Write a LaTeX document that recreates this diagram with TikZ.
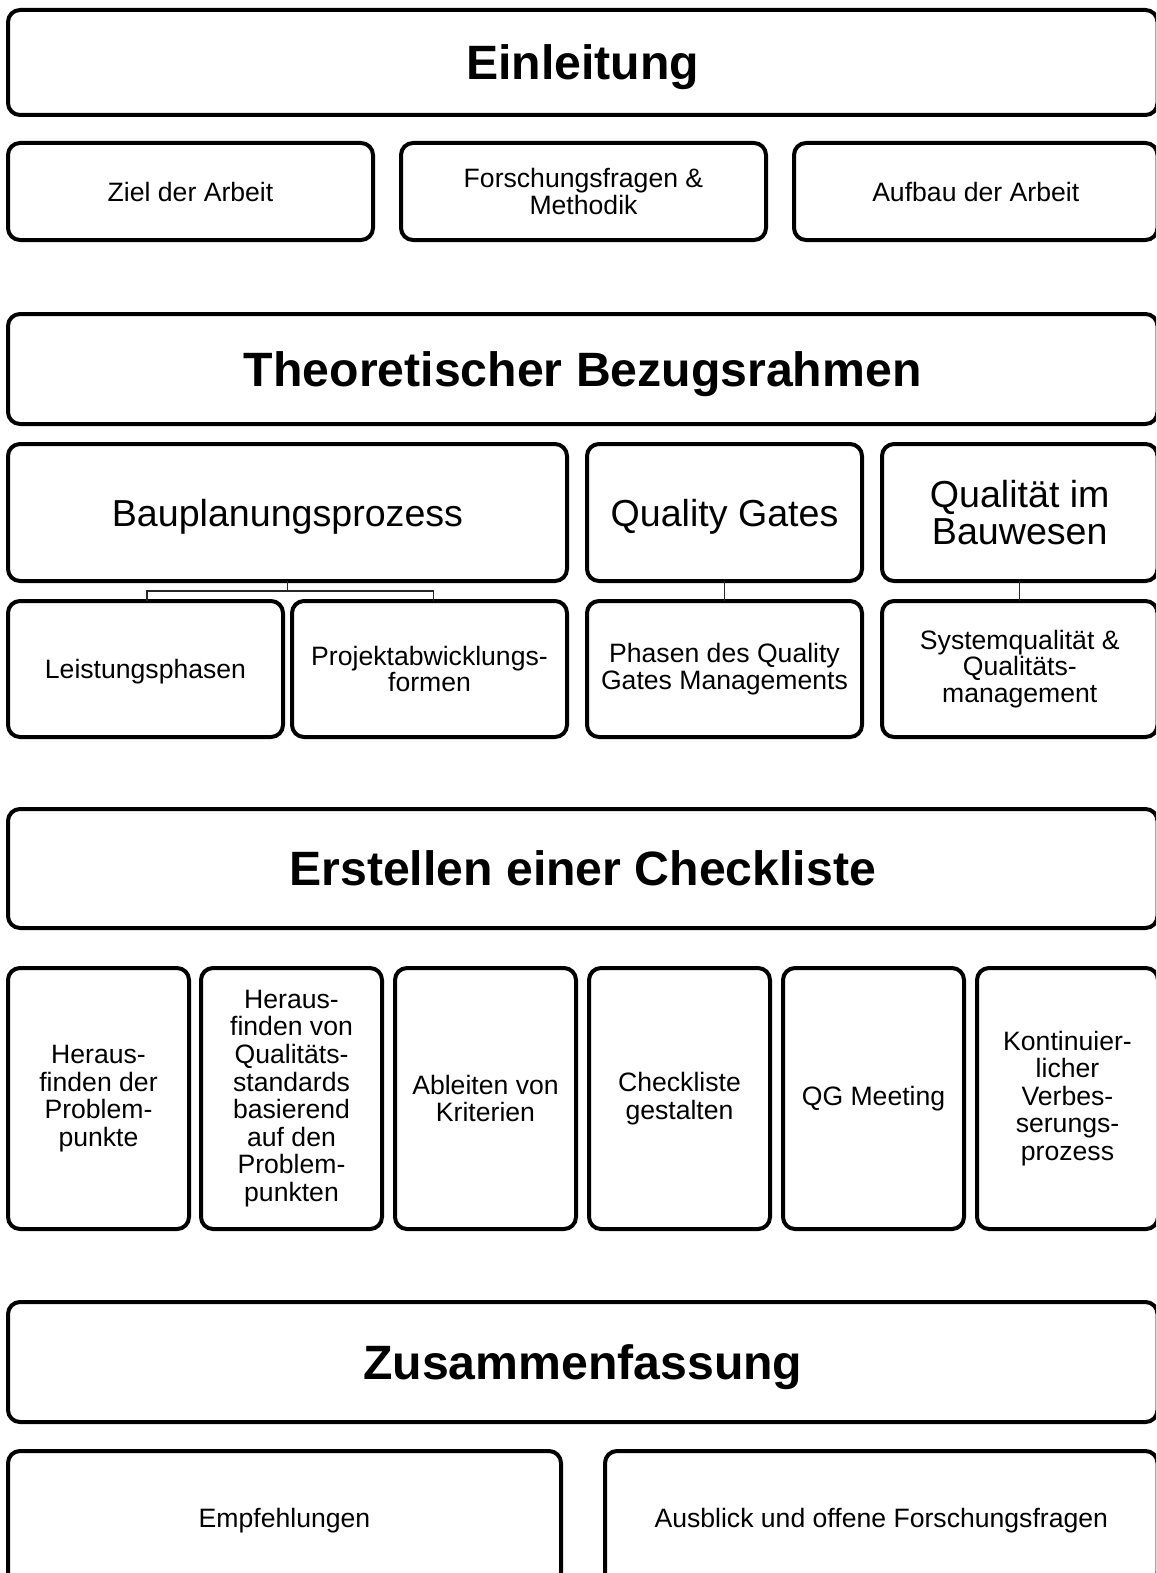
\documentclass[tikz,border=0pt]{standalone}
\usepackage{fontspec}
\setmainfont{Liberation Sans}
\begin{document}
\begin{tikzpicture}[x=1pt,y=-1pt,
  box/.style={draw=black,line width=4pt,rounded corners=12pt,fill=white,
    align=center,inner sep=0pt,outer sep=0pt},
  oneline/.style={text depth=0pt},
  titlebox/.style={box,oneline,font=\fontsize{48.2}{52}\selectfont\bfseries},
  midbox/.style={box,font=\fontsize{37.6}{36.5}\selectfont},
  smallbox/.style={box,font=\fontsize{26.6}{26.5}\selectfont},
  tallbox/.style={box,font=\fontsize{26.6}{27.6}\selectfont},
  link/.style={draw=black!85,line width=1.4pt}]
\clip (0,0) rectangle (1156,1573);
\useasboundingbox (0,0) rectangle (1156,1573);
\fill[white] (0,0) rectangle (1156,1573);
% box placed by its corners: name, x1, y1, x2, y2, style, text
\newcommand\boxfrom[7]{%
  \pgfmathsetmacro\bw{#4-#2}\pgfmathsetmacro\bh{#5-#3}%
  \node[#6,minimum width=\bw pt,minimum height=\bh pt] (#1) at ({(#2+#4)/2},{(#3+#5)/2}) {#7};}
% Einleitung
\boxfrom{einl}{8}{10}{1157.5}{115}{titlebox}{Einleitung}
\boxfrom{ziel}{8}{143}{373}{240}{smallbox}{Ziel der Arbeit}
\boxfrom{forsch}{401}{143}{766}{240}{smallbox}{Forschungsfragen \&\\Methodik}
\boxfrom{aufbau}{794}{143}{1157.5}{240}{smallbox}{Aufbau der Arbeit}
% Theoretischer Bezugsrahmen
\boxfrom{theo}{8}{314}{1157.5}{424}{titlebox}{Theoretischer Bezugsrahmen}
\boxfrom{bau}{8}{444}{567}{581}{midbox,oneline}{Bauplanungsprozess}
\boxfrom{qg}{587}{444}{862}{581}{midbox,oneline}{Quality Gates}
\boxfrom{qb}{882}{444}{1157.5}{581}{midbox}{Qualität im\\Bauwesen}
\boxfrom{lp}{8}{601}{283}{737}{smallbox,oneline}{Leistungsphasen}
\boxfrom{paf}{292}{601}{567}{737}{smallbox}{Projektabwicklungs-\\formen}
\boxfrom{pqg}{587}{601}{862}{737}{smallbox}{Phasen des Quality\\Gates Managements}
\boxfrom{sq}{882}{601}{1157.5}{737}{smallbox}{Systemqualität \&\\Qualitäts-\\management}
% tree connectors
\coordinate (fork) at (bau.south |- 0,591);
\draw[link] (bau.south) -- (fork) -| ([xshift=1.5pt]lp.north);
\draw[link] (fork) -| ([xshift=4pt]paf.north);
\draw[link] (qg.south) -- (pqg.north);
\draw[link] (qb.south) -- (sq.north);
% Erstellen einer Checkliste
\boxfrom{erst}{8}{809}{1157.5}{928}{titlebox}{Erstellen einer Checkliste}
\boxfrom{c1}{8}{968}{189}{1229}{tallbox}{Heraus-\\finden der\\Problem-\\punkte}
\boxfrom{c2}{201}{968}{382}{1229}{tallbox}{Heraus-\\finden von\\Qualitäts-\\standards\\basierend\\auf den\\Problem-\\punkten}
\boxfrom{c3}{395}{968}{576}{1229}{tallbox}{Ableiten von\\Kriterien}
\boxfrom{c4}{589}{968}{770}{1229}{tallbox}{Checkliste\\gestalten}
\boxfrom{c5}{783}{968}{964}{1229}{tallbox}{QG Meeting}
\boxfrom{c6}{977}{968}{1158}{1229}{tallbox}{Kontinuier-\\licher\\Verbes-\\serungs-\\prozess}
% Zusammenfassung
\boxfrom{zus}{8}{1302}{1157.5}{1422}{titlebox}{Zusammenfassung}
\boxfrom{empf}{8}{1451}{561}{1584}{smallbox,oneline}{Empfehlungen}
\boxfrom{ausb}{605}{1451}{1157.5}{1584}{smallbox,oneline}{Ausblick und offene Forschungsfragen}
\end{tikzpicture}
\end{document}
